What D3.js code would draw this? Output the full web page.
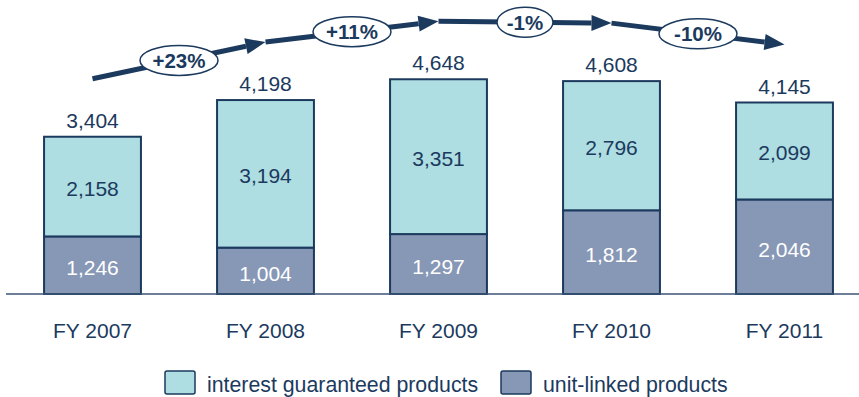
<!DOCTYPE html>
<html>
<head>
<meta charset="utf-8">
<script src="https://cdn.jsdelivr.net/npm/d3@7"></script>
<style>
  html, body { margin: 0; padding: 0; background: #fff; }
  svg { display: block; font-family: "Liberation Sans", Arial, sans-serif; }
</style>
</head>
<body>
<svg id="chart" width="859" height="397"></svg>
<script>
// Premium volume by product type, fiscal years 2007-2011
const years = ["FY 2007", "FY 2008", "FY 2009", "FY 2010", "FY 2011"];
const unitLinked = [1246, 1004, 1297, 1812, 2046];
const interestGuaranteed = [2158, 3194, 3351, 2796, 2099];
const totals = [3404, 4198, 4648, 4608, 4145];
const growthLabels = ["+23%", "+11%", "-1%", "-10%"];
const seriesNames = ["interest guaranteed products", "unit-linked products"];

const navy = "#1b3a5e";
const lightFill = "#aedde2";
const darkFill = "#8797b6";

const svg = d3.select("#chart");

const x = d3.scaleBand()
  .domain(years)
  .range([6, 871])
  .paddingInner(0.44)
  .paddingOuter(0.22);

const baseY = 294;
const y = d3.scaleLinear().domain([0, 5000]).range([baseY, baseY - 231]);

const fmt = d3.format(",");

// bars
const g = svg.append("g");
years.forEach((yr, i) => {
  const x0 = x(yr), w = x.bandwidth();
  const u = unitLinked[i], ig = interestGuaranteed[i];
  g.append("rect")
    .attr("x", x0).attr("y", y(u))
    .attr("width", w).attr("height", y(0) - y(u))
    .attr("fill", darkFill).attr("stroke", navy).attr("stroke-width", 2);
  g.append("rect")
    .attr("x", x0).attr("y", y(u + ig))
    .attr("width", w).attr("height", y(u) - y(u + ig))
    .attr("fill", lightFill).attr("stroke", navy).attr("stroke-width", 2);

  const cx = x0 + w / 2;
  g.append("text")
    .attr("x", cx).attr("y", (y(0) + y(u)) / 2 + 10)
    .attr("text-anchor", "middle").attr("font-size", 21)
    .attr("fill", "#ffffff").text(fmt(u));
  g.append("text")
    .attr("x", cx).attr("y", (y(u) + y(u + ig)) / 2 + 9)
    .attr("text-anchor", "middle").attr("font-size", 21)
    .attr("fill", navy).text(fmt(ig));
  g.append("text")
    .attr("x", cx).attr("y", y(totals[i]) - 9)
    .attr("text-anchor", "middle").attr("font-size", 21)
    .attr("fill", navy).text(fmt(totals[i]));
});

// baseline axis
svg.append("line")
  .attr("x1", 6).attr("x2", 859)
  .attr("y1", baseY).attr("y2", baseY)
  .attr("stroke", "#3d5576").attr("stroke-width", 1.5);

// category labels
const xAxis = d3.axisBottom(x).tickSize(0).tickPadding(0);
const ax = svg.append("g").attr("transform", `translate(0,${baseY})`).call(xAxis);
ax.select(".domain").remove();
ax.selectAll("text")
  .attr("y", 44)
  .attr("dy", 0)
  .attr("font-size", 21)
  .attr("font-family", "Liberation Sans, Arial, sans-serif")
  .attr("fill", navy);

// growth arrows between consecutive totals
const arrowOffset = 58;
const ag = svg.append("g");
for (let i = 0; i < years.length - 1; i++) {
  const x1 = x(years[i]) + x.bandwidth() / 2;
  const x2 = x(years[i + 1]) + x.bandwidth() / 2;
  const y1 = y(totals[i]) - arrowOffset;
  const y2 = y(totals[i + 1]) - arrowOffset;
  const ang = Math.atan2(y2 - y1, x2 - x1);
  const headLen = 20, headHalf = 8;
  const bx = x2 - headLen * Math.cos(ang), by = y2 - headLen * Math.sin(ang);
  ag.append("line")
    .attr("x1", x1).attr("y1", y1).attr("x2", bx).attr("y2", by)
    .attr("stroke", navy).attr("stroke-width", 5);
  const px = -Math.sin(ang) * headHalf, py = Math.cos(ang) * headHalf;
  ag.append("path")
    .attr("d", `M${x2},${y2}L${bx + px},${by + py}L${bx - px},${by - py}Z`)
    .attr("fill", navy);
  const mx = x1 + (x2 - x1) * 0.5, my = y1 + (y2 - y1) * 0.5;
  const label = growthLabels[i];
  const rx = label.length >= 4 ? 39 : 28;
  ag.append("ellipse")
    .attr("cx", mx).attr("cy", my).attr("rx", rx).attr("ry", 15)
    .attr("fill", "#fff").attr("stroke", navy).attr("stroke-width", 1.5);
  ag.append("text")
    .attr("x", mx).attr("y", my + 7.5)
    .attr("text-anchor", "middle").attr("font-size", 20.5).attr("font-weight", "bold")
    .attr("fill", navy).text(label);
}

// legend
const legend = svg.append("g");
const legendItems = [
  { name: seriesNames[0], fill: lightFill, x: 165 },
  { name: seriesNames[1], fill: darkFill, x: 501 }
];
legendItems.forEach(d => {
  legend.append("rect")
    .attr("x", d.x).attr("y", 371).attr("width", 30).attr("height", 23)
    .attr("rx", 2).attr("fill", d.fill).attr("stroke", navy).attr("stroke-width", 1.5);
  legend.append("text")
    .attr("x", d.x + 42).attr("y", 392)
    .attr("font-size", 21.3).attr("fill", navy).text(d.name);
});
</script>
</body>
</html>
